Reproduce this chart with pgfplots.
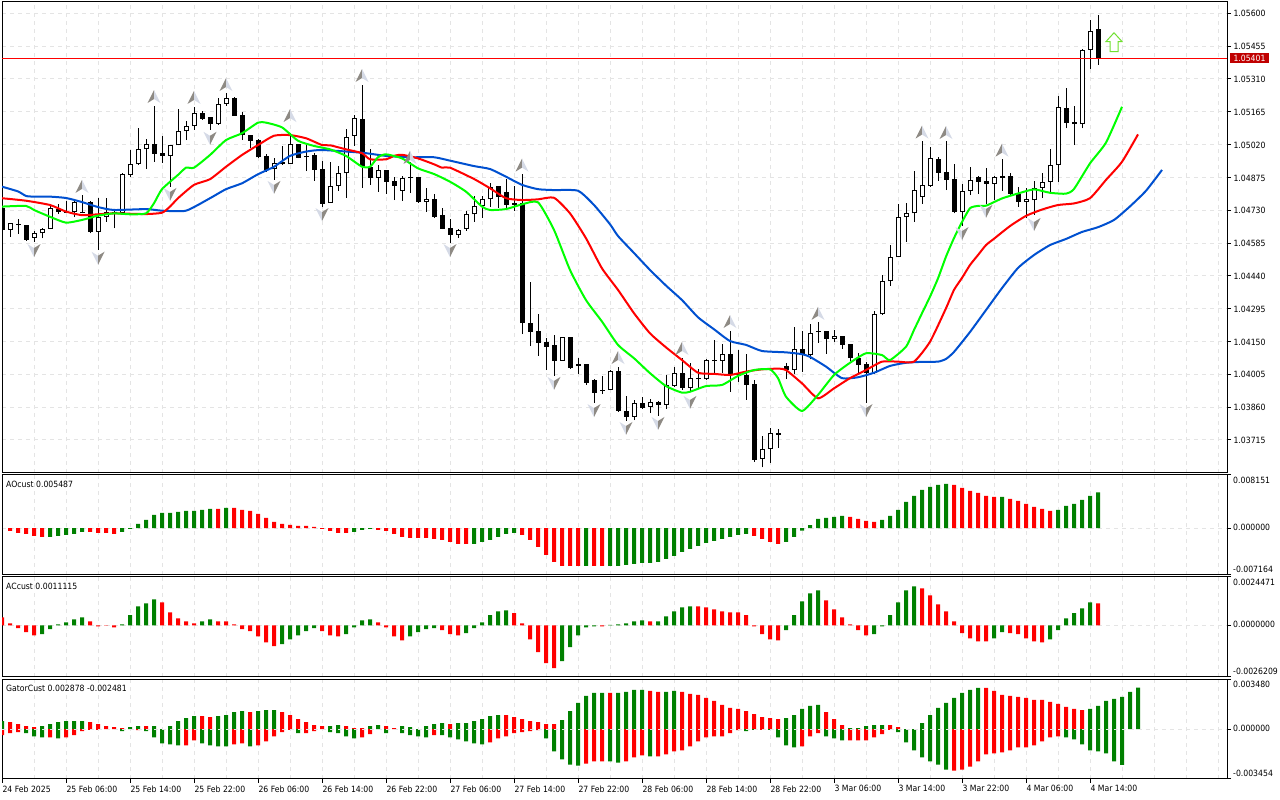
\documentclass[border=0pt]{standalone}
\usepackage{fontspec}
\setmainfont{DejaVu Sans}[FakeStretch=0.9]
\usepackage{pgfplots}
\usepackage{pgfplotstable}
\pgfplotsset{compat=1.18}
\newcommand{\lab}{\fontsize{8.6}{11}\selectfont}
\definecolor{fdark}{HTML}{8E8A84}
\definecolor{flight}{HTML}{D5DAE6}
\definecolor{gridc}{HTML}{E4E4E4}
\definecolor{hgreen}{HTML}{008000}
\definecolor{hred}{HTML}{FF0000}
\definecolor{blueline}{HTML}{0050D0}
\definecolor{arrowg}{HTML}{70E030}
\pgfdeclareplotmark{fup}{%
  \pgfsetfillcolor{fdark}\pgfpathmoveto{\pgfqpoint{0pt}{7pt}}\pgfpathlineto{\pgfqpoint{-6.5pt}{-6pt}}\pgfpathlineto{\pgfqpoint{0pt}{-2pt}}\pgfpathclose\pgfusepathqfill
  \pgfsetfillcolor{flight}\pgfpathmoveto{\pgfqpoint{0pt}{7pt}}\pgfpathlineto{\pgfqpoint{6.5pt}{-6pt}}\pgfpathlineto{\pgfqpoint{0pt}{-2pt}}\pgfpathclose\pgfusepathqfill}
\pgfdeclareplotmark{fdown}{%
  \pgfsetfillcolor{flight}\pgfpathmoveto{\pgfqpoint{0pt}{-7pt}}\pgfpathlineto{\pgfqpoint{-6.5pt}{6pt}}\pgfpathlineto{\pgfqpoint{0pt}{2pt}}\pgfpathclose\pgfusepathqfill
  \pgfsetfillcolor{fdark}\pgfpathmoveto{\pgfqpoint{0pt}{-7pt}}\pgfpathlineto{\pgfqpoint{6.5pt}{6pt}}\pgfpathlineto{\pgfqpoint{0pt}{2pt}}\pgfpathclose\pgfusepathqfill}
\pgfdeclareplotmark{bigup}{%
  \pgfsetlinewidth{1pt}\pgfsetstrokecolor{arrowg}\pgfsetfillcolor{white}%
  \pgfpathmoveto{\pgfqpoint{0pt}{9.3pt}}\pgfpathlineto{\pgfqpoint{8pt}{0.5pt}}\pgfpathlineto{\pgfqpoint{4pt}{0.5pt}}\pgfpathlineto{\pgfqpoint{4pt}{-9.5pt}}\pgfpathlineto{\pgfqpoint{-4pt}{-9.5pt}}\pgfpathlineto{\pgfqpoint{-4pt}{0.5pt}}\pgfpathlineto{\pgfqpoint{-8pt}{0.5pt}}\pgfpathclose\pgfusepathqfillstroke}
% k high top bottom low
\pgfplotstableread{
k h t b l
-1 1.04753 1.04740 1.04643 1.04634
1 1.04691 1.04668 1.04664 1.04625
2 1.04665 1.04665 1.04599 1.04594
6 1.04756 1.04735 1.04724 1.04713
7 1.04771 1.04724 1.04720 1.04718
9 1.04797 1.04722 1.04718 1.04716
10 1.04771 1.04765 1.04635 1.04628
13 1.04731 1.04724 1.04713 1.04650
18 1.05191 1.05021 1.04980 1.04944
19 1.05058 1.04982 1.04971 1.04940
24 1.05170 1.05158 1.05134 1.05129
25 1.05142 1.05141 1.05112 1.05085
28 1.05229 1.05225 1.05148 1.05148
29 1.05163 1.05149 1.05061 1.05040
30 1.05062 1.05061 1.05037 1.05006
31 1.05045 1.05040 1.04964 1.04959
32 1.04978 1.04970 1.04908 1.04900
34 1.05014 1.04944 1.04933 1.04930
36 1.05023 1.05021 1.04962 1.04959
38 1.04982 1.04974 1.04908 1.04861
39 1.04949 1.04911 1.04759 1.04746
44 1.05283 1.05132 1.04920 1.04830
45 1.04999 1.04920 1.04874 1.04842
47 1.04908 1.04908 1.04856 1.04802
48 1.04876 1.04859 1.04838 1.04775
50 1.04944 1.04876 1.04871 1.04805
51 1.04877 1.04877 1.04768 1.04763
53 1.04800 1.04778 1.04700 1.04697
54 1.04739 1.04709 1.04648 1.04646
55 1.04691 1.04650 1.04622 1.04587
61 1.04837 1.04836 1.04790 1.04740
62 1.04868 1.04811 1.04754 1.04731
63 1.04837 1.04762 1.04754 1.04728
64 1.04889 1.04761 1.04231 1.04183
65 1.04413 1.04231 1.04193 1.04130
66 1.04272 1.04196 1.04145 1.04086
67 1.04164 1.04148 1.04127 1.04024
68 1.04179 1.04135 1.04065 1.03998
70 1.04171 1.04169 1.04034 1.04029
72 1.04049 1.04049 1.03968 1.03959
73 1.03984 1.03980 1.03924 1.03880
74 1.03998 1.03936 1.03931 1.03917
76 1.04036 1.04018 1.03844 1.03840
77 1.03909 1.03842 1.03818 1.03800
79 1.03906 1.03877 1.03856 1.03853
81 1.03886 1.03883 1.03871 1.03821
84 1.04076 1.04010 1.03945 1.03936
86 1.04030 1.03988 1.03983 1.03939
88 1.04157 1.04068 1.04063 1.04007
90 1.04196 1.04094 1.04001 1.03927
91 1.04113 1.04010 1.04001 1.03973
92 1.04095 1.04002 1.03958 1.03892
93 1.03980 1.03961 1.03627 1.03619
96 1.03764 1.03745 1.03738 1.03681
97 1.04054 1.04042 1.04024 1.03984
99 1.04198 1.04117 1.04090 1.04017
101 1.04235 1.04196 1.04191 1.04145
102 1.04196 1.04196 1.04162 1.04095
104 1.04174 1.04173 1.04136 1.04118
105 1.04138 1.04138 1.04077 1.04065
106 1.04098 1.04076 1.04046 1.04007
107 1.04058 1.04049 1.04010 1.03880
116 1.04967 1.04956 1.04896 1.04861
117 1.05036 1.04898 1.04864 1.04819
118 1.04934 1.04868 1.04724 1.04716
121 1.04881 1.04877 1.04855 1.04802
122 1.04915 1.04858 1.04846 1.04758
124 1.04955 1.04881 1.04874 1.04816
125 1.04893 1.04881 1.04802 1.04797
126 1.04831 1.04802 1.04768 1.04746
132 1.05269 1.05180 1.05117 1.05092
133 1.05191 1.05119 1.05110 1.05018
136 1.05593 1.05529 1.05401 1.05372
}\blackc
\pgfplotstableread{
k h t b l
0 1.04672 1.04672 1.04643 1.04613
3 1.04638 1.04628 1.04609 1.04590
4 1.04653 1.04646 1.04628 1.04606
5 1.04753 1.04739 1.04646 1.04646
8 1.04775 1.04765 1.04724 1.04701
11 1.04785 1.04699 1.04635 1.04554
12 1.04783 1.04724 1.04699 1.04679
14 1.04893 1.04889 1.04716 1.04716
15 1.04996 1.04933 1.04886 1.04878
16 1.05092 1.04999 1.04933 1.04930
17 1.05043 1.05021 1.04999 1.04912
20 1.05018 1.05017 1.04971 1.04834
21 1.05176 1.05079 1.05017 1.05017
22 1.05126 1.05101 1.05079 1.05040
23 1.05187 1.05158 1.05101 1.05085
26 1.05227 1.05198 1.05112 1.05107
27 1.05247 1.05225 1.05201 1.05192
33 1.04959 1.04937 1.04911 1.04864
35 1.05070 1.05021 1.04933 1.04933
37 1.05018 1.04971 1.04964 1.04903
40 1.04944 1.04836 1.04761 1.04761
41 1.04925 1.04893 1.04836 1.04816
42 1.05088 1.05052 1.04893 1.04785
43 1.05151 1.05136 1.05058 1.05014
46 1.04930 1.04908 1.04874 1.04812
49 1.04881 1.04871 1.04816 1.04772
52 1.04830 1.04778 1.04768 1.04724
56 1.04646 1.04641 1.04622 1.04609
57 1.04727 1.04712 1.04646 1.04640
58 1.04793 1.04749 1.04712 1.04679
59 1.04793 1.04778 1.04749 1.04697
60 1.04849 1.04834 1.04778 1.04746
69 1.04169 1.04169 1.04065 1.04065
71 1.04076 1.04049 1.04041 1.04007
75 1.04024 1.04018 1.03935 1.03935
78 1.03890 1.03877 1.03818 1.03803
80 1.03896 1.03881 1.03862 1.03833
82 1.04002 1.03958 1.03871 1.03851
83 1.04036 1.04010 1.03955 1.03950
85 1.04054 1.03988 1.03946 1.03933
87 1.04074 1.04067 1.03983 1.03980
89 1.04139 1.04094 1.04063 1.04010
94 1.03733 1.03674 1.03630 1.03594
95 1.03767 1.03745 1.03674 1.03615
98 1.04213 1.04116 1.04024 1.04005
100 1.04227 1.04189 1.04090 1.04071
103 1.04201 1.04173 1.04162 1.04149
108 1.04286 1.04270 1.04011 1.04007
109 1.04444 1.04416 1.04270 1.04267
110 1.04576 1.04522 1.04416 1.04397
111 1.04758 1.04699 1.04522 1.04522
112 1.04761 1.04716 1.04699 1.04591
113 1.04903 1.04818 1.04716 1.04679
114 1.05036 1.04840 1.04790 1.04758
115 1.05011 1.04959 1.04838 1.04834
119 1.04846 1.04814 1.04724 1.04660
120 1.04920 1.04862 1.04816 1.04797
123 1.04881 1.04876 1.04847 1.04775
127 1.04827 1.04778 1.04768 1.04694
128 1.04859 1.04830 1.04774 1.04709
129 1.04893 1.04853 1.04830 1.04783
130 1.05001 1.04929 1.04856 1.04807
131 1.05235 1.05185 1.04929 1.04856
134 1.05441 1.05437 1.05110 1.05092
135 1.05570 1.05523 1.05437 1.05354
}\whitec
\pgfplotsset{
  panel/.style={
    scale only axis, width=1225pt, xmin=-1, xmax=152.125,
    anchor=south west,
    axis line style={black,line width=1pt},
    grid=both,
    major grid style={gridc,line width=1pt,dash pattern=on 4pt off 4pt},
    minor grid style={gridc,line width=1pt,dash pattern=on 4pt off 4pt},
    minor tick length=0pt,
    tick align=outside,
    major tick length=4pt,
    tick style={black,line width=1pt},
    xtick pos=bottom, ytick pos=right, yticklabel pos=right,
    xtick={-1,7,15,23,31,39,47,55,63,71,79,87,95,103,111,119,127,135},
    minor xtick={3,11,19,27,35,43,51,59,67,75,83,91,99,107,115,123,131,139,143,147,151},
    scaled y ticks=false,
    tick label style={font=\lab},
    clip=true,
  },
  nox/.style={xticklabels={},x tick style={draw=none}},
  hg/.style={ybar,bar width=4pt,bar shift=0pt,draw=none,fill=hgreen},
  hr/.style={ybar,bar width=4pt,bar shift=0pt,draw=none,fill=hred},
  zero/.style={gridc,line width=1pt,dash pattern=on 4pt off 4pt},
  ma/.style={line width=2pt,smooth,tension=0.35,line join=round},
}
\begin{document}
\begin{tikzpicture}
\useasboundingbox (0,0) rectangle (1280pt,800pt);
% ---- main price panel
\begin{axis}[panel,nox,at={(2pt,327pt)},height=471pt,ymin=1.03569,ymax=1.05650,
  ytick={1.056,1.05455,1.0531,1.05165,1.0502,1.04875,1.0473,1.04585,1.0444,1.04295,1.0415,1.04005,1.0386,1.03715},
  yticklabels={1.05600,1.05455,1.05310,1.05165,1.05020,1.04875,1.04730,1.04585,1.04440,1.04295,1.04150,1.04005,1.03860,1.03715},
  yticklabel style={xshift=-1pt,yshift=-0.5pt}]
\addplot[only marks,mark=fup,mark size=6pt] coordinates {(9,1.04833)(18,1.05230)(23,1.05226)(27,1.05283)(35,1.05146)(44,1.05323)(50,1.04961)(64,1.04927)(76,1.04077)(84,1.04117)(90,1.04236)(101,1.04272)(114,1.05073)(117,1.05071)(124,1.04993)};
\addplot[only marks,mark=fdown,mark size=6pt] coordinates {(3,1.04554)(11,1.04520)(20,1.04802)(25,1.05050)(33,1.04833)(39,1.04713)(55,1.04554)(68,1.03967)(73,1.03847)(77,1.03768)(81,1.03790)(85,1.03883)(107,1.03847)(119,1.04629)(122,1.04727)(128,1.04669)};
% wicks
\addplot[draw=none,mark=none,error bars/.cd,y dir=plus,y explicit,error mark=none,error bar style={black,line width=1pt}] table[x=k,y=l,y error plus expr={\thisrow{h}-\thisrow{l}}] {\blackc};
\addplot[draw=none,mark=none,error bars/.cd,y dir=plus,y explicit,error mark=none,error bar style={black,line width=1pt}] table[x=k,y=l,y error plus expr={\thisrow{h}-\thisrow{l}}] {\whitec};
% bodies
\addplot[draw=none,mark=none,error bars/.cd,y dir=plus,y explicit,error mark=none,error bar style={black,line width=5pt}] table[x=k,y=b,y error plus expr={\thisrow{t}-\thisrow{b}}] {\blackc};
\addplot[draw=none,mark=none,error bars/.cd,y dir=plus,y explicit,error mark=none,error bar style={black,line width=5pt}] table[x=k,y=b,y error plus expr={\thisrow{t}-\thisrow{b}}] {\whitec};
\addplot[draw=none,mark=none,error bars/.cd,y dir=plus,y explicit,error mark=none,error bar style={white,line width=3pt}] table[x=k,y expr={\thisrow{b}+0.000044},y error plus expr={max(\thisrow{t}-\thisrow{b}-0.000088,0)}] {\whitec};
% alligator lines
\addplot[blueline,ma] coordinates {(-1,1.04834)(1,1.04813)(2,1.04793)(3,1.04790)(5,1.04790)(7,1.04784)(9,1.04766)(11,1.04744)(13,1.04731)(17,1.04735)(19,1.04728)(22,1.04728)(25,1.04783)(27,1.04823)(29,1.04849)(31,1.04889)(33,1.04922)(35,1.04970)(37,1.04989)(39,1.04996)(44,1.04984)(47,1.04970)(50,1.04964)(53,1.04964)(55,1.04949)(58,1.04925)(60,1.04912)(62,1.04878)(64,1.04842)(66,1.04823)(68,1.04819)(71,1.04816)(73,1.04753)(75,1.04668)(76,1.04616)(78,1.04541)(80,1.04466)(82,1.04397)(84,1.04333)(86,1.04257)(88,1.04204)(90,1.04152)(92,1.04135)(94,1.04108)(97,1.04102)(99,1.04094)(100,1.04082)(102,1.04039)(104,1.03988)(106,1.03992)(108,1.04012)(110,1.04042)(112,1.04056)(114,1.04060)(116,1.04061)(117,1.04073)(118,1.04104)(120,1.04192)(122,1.04289)(124,1.04386)(126,1.04475)(128,1.04532)(130,1.04576)(132,1.04603)(134,1.04634)(136,1.04655)(138,1.04687)(140,1.04747)(142,1.04816)(144,1.04908)};
\addplot[red,ma] coordinates {(-1,1.04783)(2,1.04772)(5,1.04753)(7,1.04724)(9,1.04708)(11,1.04712)(13,1.04716)(17,1.04713)(19,1.04719)(20,1.04746)(21,1.04783)(23,1.04842)(25,1.04867)(27,1.04922)(29,1.04974)(31,1.05018)(33,1.05059)(35,1.05062)(37,1.05048)(39,1.05018)(40,1.05017)(42,1.04999)(44,1.04982)(45,1.04955)(47,1.04955)(48,1.04970)(49,1.04975)(51,1.04959)(53,1.04933)(54,1.04918)(55,1.04918)(58,1.04868)(60,1.04827)(62,1.04783)(64,1.04775)(66,1.04778)(68,1.04785)(70,1.04716)(72,1.04606)(74,1.04473)(76,1.04378)(78,1.04275)(80,1.04186)(82,1.04124)(84,1.04068)(86,1.04012)(88,1.04007)(90,1.04002)(92,1.04017)(94,1.04027)(96,1.04030)(97,1.04024)(99,1.03965)(101,1.03899)(103,1.03943)(105,1.03988)(107,1.04024)(109,1.04061)(111,1.04061)(113,1.04061)(115,1.04149)(117,1.04297)(118,1.04378)(119,1.04431)(120,1.04488)(121,1.04532)(122,1.04576)(123,1.04604)(125,1.04660)(127,1.04705)(129,1.04733)(131,1.04753)(133,1.04760)(135,1.04783)(137,1.04864)(139,1.04944)(141,1.05065)};
\addplot[green,ma] coordinates {(-1,1.04746)(2,1.04749)(3,1.04731)(5,1.04701)(7,1.04675)(9,1.04687)(11,1.04706)(13,1.04716)(15,1.04712)(17,1.04716)(18,1.04761)(19,1.04823)(21,1.04886)(22,1.04918)(23,1.04918)(25,1.04974)(27,1.05040)(29,1.05070)(31,1.05117)(32,1.05117)(34,1.05096)(36,1.05037)(38,1.05014)(40,1.04999)(42,1.04970)(44,1.04922)(45,1.04922)(46,1.04964)(47,1.04977)(49,1.04959)(51,1.04915)(53,1.04890)(55,1.04856)(57,1.04812)(59,1.04746)(60,1.04731)(62,1.04735)(64,1.04756)(66,1.04765)(68,1.04643)(70,1.04466)(72,1.04333)(74,1.04238)(76,1.04135)(78,1.04076)(80,1.04010)(82,1.03953)(84,1.03924)(85,1.03928)(87,1.03953)(89,1.03958)(91,1.03998)(93,1.04024)(95,1.04027)(96,1.03988)(97,1.03906)(99,1.03843)(101,1.03914)(103,1.04002)(105,1.04056)(107,1.04098)(109,1.04090)(110,1.04068)(112,1.04127)(113,1.04201)(114,1.04275)(115,1.04348)(116,1.04429)(117,1.04525)(118,1.04607)(119,1.04678)(120,1.04739)(121,1.04749)(122,1.04750)(124,1.04782)(126,1.04804)(128,1.04822)(130,1.04807)(132,1.04803)(133,1.04824)(135,1.04937)(137,1.05029)(139,1.05187)};
\addplot[red,line width=1pt] coordinates {(-1,1.05401)(152.125,1.05401)};
\addplot[only marks,mark=bigup] coordinates {(138,1.05473)};
\end{axis}
% ---- AO
\begin{axis}[panel,nox,at={(2pt,225pt)},height=100pt,ymin=-0.007164,ymax=0.008151,
  ytick={-0.007164,0,0.008151},yticklabels={}]
\addplot[hg] coordinates {(5,-0.00133)(6,-0.00118)(7,-0.00103)(8,-0.00087)(9,-0.00057)(14,-0.00057)(15,-0.00009)(16,0.00066)(17,0.00127)(18,0.00203)(19,0.00234)(20,0.00234)(21,0.00249)(22,0.00265)(23,0.00265)(24,0.00280)(25,0.00295)(27,0.00311)(43,-0.00057)(44,-0.00026)(45,-0.00009)(58,-0.00240)(59,-0.00210)(60,-0.00179)(61,-0.00133)(62,-0.00087)(63,-0.00072)(72,-0.00577)(75,-0.00577)(76,-0.00577)(77,-0.00562)(78,-0.00546)(79,-0.00531)(80,-0.00531)(81,-0.00516)(82,-0.00470)(83,-0.00424)(84,-0.00363)(85,-0.00317)(86,-0.00271)(87,-0.00225)(88,-0.00194)(89,-0.00164)(90,-0.00133)(91,-0.00103)(92,-0.00087)(97,-0.00210)(98,-0.00133)(99,-0.00035)(100,0.00046)(101,0.00142)(102,0.00158)(103,0.00173)(104,0.00188)(109,0.00127)(110,0.00188)(111,0.00280)(112,0.00402)(113,0.00494)(114,0.00586)(115,0.00632)(116,0.00662)(117,0.00678)(124,0.00479)(131,0.00280)(132,0.00341)(133,0.00372)(134,0.00433)(135,0.00494)(136,0.00549)};
\addplot[hr] coordinates {(0,-0.00041)(1,-0.00072)(2,-0.00087)(3,-0.00118)(4,-0.00133)(10,-0.00057)(11,-0.00072)(12,-0.00072)(13,-0.00087)(26,0.00295)(28,0.00311)(29,0.00280)(30,0.00265)(31,0.00219)(32,0.00158)(33,0.00096)(34,0.00066)(35,0.00050)(36,0.00035)(37,0.00035)(38,0.00020)(39,-0.00009)(40,-0.00041)(41,-0.00072)(42,-0.00072)(46,-0.00026)(47,-0.00041)(48,-0.00087)(49,-0.00133)(50,-0.00148)(51,-0.00148)(52,-0.00148)(53,-0.00164)(54,-0.00179)(55,-0.00210)(56,-0.00240)(57,-0.00240)(64,-0.00103)(65,-0.00179)(66,-0.00286)(67,-0.00409)(68,-0.00516)(69,-0.00577)(70,-0.00577)(71,-0.00577)(73,-0.00577)(74,-0.00577)(93,-0.00118)(94,-0.00164)(95,-0.00210)(96,-0.00240)(105,0.00173)(106,0.00142)(107,0.00112)(108,0.00096)(118,0.00662)(119,0.00617)(120,0.00571)(121,0.00540)(122,0.00494)(123,0.00479)(125,0.00448)(126,0.00418)(127,0.00372)(128,0.00326)(129,0.00295)(130,0.00265)};
\end{axis}
% ---- AC
\begin{axis}[panel,nox,at={(2pt,123pt)},height=100pt,ymin=-0.0026209,ymax=0.0024471,
  ytick={-0.0026209,0,0.0024471},yticklabels={}]
\addplot[hg] coordinates {(4,-0.00045)(5,-0.00020)(6,0.00005)(7,0.00015)(8,0.00030)(9,0.00040)(14,0.00005)(15,0.00051)(16,0.00096)(17,0.00111)(18,0.00131)(24,0.00020)(25,0.00030)(34,-0.00096)(35,-0.00071)(36,-0.00051)(37,-0.00030)(38,-0.00015)(42,-0.00045)(43,-0.00010)(44,0.00025)(45,0.00030)(50,-0.00056)(51,-0.00035)(52,-0.00020)(53,-0.00015)(57,-0.00040)(58,-0.00015)(59,0.00015)(60,0.00051)(61,0.00071)(62,0.00076)(69,-0.00182)(70,-0.00111)(71,-0.00051)(72,-0.00010)(73,-0.00005)(75,0.00002)(76,0.00005)(77,0.00010)(78,0.00020)(79,0.00025)(81,0.00020)(82,0.00045)(83,0.00071)(84,0.00091)(85,0.00096)(97,-0.00025)(98,0.00051)(99,0.00121)(100,0.00162)(101,0.00177)(108,-0.00045)(109,-0.00005)(110,0.00051)(111,0.00116)(112,0.00177)(113,0.00197)(123,-0.00066)(124,-0.00035)(130,-0.00071)(131,-0.00025)(132,0.00035)(133,0.00061)(134,0.00086)(135,0.00116)};
\addplot[hr] coordinates {(-1,0.00040)(0,0.00010)(1,-0.00015)(2,-0.00035)(3,-0.00051)(10,0.00020)(11,-0.00005)(12,-0.00002)(13,-0.00010)(19,0.00116)(20,0.00066)(21,0.00035)(22,0.00020)(23,0.00010)(26,0.00020)(27,0.00020)(28,0.00005)(29,-0.00020)(30,-0.00030)(31,-0.00056)(32,-0.00086)(33,-0.00106)(39,-0.00030)(40,-0.00051)(41,-0.00056)(46,0.00015)(47,-0.00010)(48,-0.00056)(49,-0.00076)(54,-0.00025)(55,-0.00045)(56,-0.00051)(63,0.00061)(64,0.00010)(65,-0.00071)(66,-0.00136)(67,-0.00192)(68,-0.00217)(74,-0.00005)(80,0.00020)(86,0.00096)(87,0.00091)(88,0.00081)(89,0.00071)(90,0.00066)(91,0.00066)(92,0.00051)(93,-0.00005)(94,-0.00045)(95,-0.00071)(96,-0.00076)(102,0.00126)(103,0.00081)(104,0.00040)(105,0.00005)(106,-0.00025)(107,-0.00051)(114,0.00187)(115,0.00152)(116,0.00106)(117,0.00071)(118,0.00020)(119,-0.00040)(120,-0.00066)(121,-0.00081)(122,-0.00081)(125,-0.00040)(126,-0.00045)(127,-0.00066)(128,-0.00081)(129,-0.00086)(136,0.00111)};
\end{axis}
% ---- Gator
\begin{axis}[panel,at={(2pt,21pt)},height=100pt,ymin=-0.003454,ymax=0.003480,
  ytick={-0.003454,0,0.003480},yticklabels={},
  xticklabels={24 Feb 2025,25 Feb 06:00,25 Feb 14:00,25 Feb 22:00,26 Feb 06:00,26 Feb 14:00,26 Feb 22:00,27 Feb 06:00,27 Feb 14:00,27 Feb 22:00,28 Feb 06:00,28 Feb 14:00,28 Feb 22:00,3 Mar 06:00,3 Mar 14:00,3 Mar 22:00,4 Mar 06:00,4 Mar 14:00},
  xticklabel style={anchor=north west,xshift=-3pt,yshift=1pt}]
\addplot[hg] coordinates {(-1,0.00056)(4,0.00021)(5,0.00035)(6,0.00049)(7,0.00056)(8,0.00056)(9,0.00056)(15,0.00014)(16,0.00021)(18,0.00021)(20,0.00021)(21,0.00056)(22,0.00077)(23,0.00091)(26,0.00091)(27,0.00098)(28,0.00119)(29,0.00126)(31,0.00126)(32,0.00133)(33,0.00133)(40,0.00021)(41,0.00028)(45,0.00021)(46,0.00028)(49,0.00021)(50,0.00014)(52,0.00021)(53,0.00035)(54,0.00042)(56,0.00042)(57,0.00042)(58,0.00056)(59,0.00070)(60,0.00091)(61,0.00098)(69,0.00063)(70,0.00126)(71,0.00182)(72,0.00231)(73,0.00252)(74,0.00252)(76,0.00252)(77,0.00259)(78,0.00273)(79,0.00273)(82,0.00259)(83,0.00266)(97,0.00077)(98,0.00098)(99,0.00140)(100,0.00161)(101,0.00168)(105,0.00007)(106,0.00007)(107,0.00021)(108,0.00028)(109,0.00028)(114,0.00042)(115,0.00098)(116,0.00147)(117,0.00182)(118,0.00217)(119,0.00252)(120,0.00273)(121,0.00287)(135,0.00140)(136,0.00161)(137,0.00196)(138,0.00210)(139,0.00224)(140,0.00259)(141,0.00288)};
\addplot[hr] coordinates {(0,0.00049)(1,0.00035)(2,0.00021)(3,0.00014)(10,0.00049)(11,0.00035)(12,0.00021)(13,0.00014)(14,0.00007)(17,0.00021)(24,0.00091)(25,0.00084)(30,0.00119)(34,0.00119)(35,0.00098)(36,0.00070)(37,0.00049)(38,0.00028)(39,0.00021)(42,0.00021)(43,0.00007)(44,0.00007)(47,0.00021)(48,0.00007)(55,0.00035)(62,0.00098)(63,0.00084)(64,0.00070)(65,0.00056)(66,0.00049)(67,0.00035)(68,0.00035)(75,0.00252)(80,0.00266)(81,0.00259)(84,0.00259)(85,0.00245)(86,0.00238)(87,0.00217)(88,0.00196)(89,0.00168)(90,0.00147)(91,0.00140)(92,0.00126)(93,0.00105)(94,0.00084)(95,0.00077)(96,0.00070)(102,0.00119)(103,0.00070)(104,0.00028)(110,0.00028)(111,0.00014)(122,0.00287)(123,0.00266)(124,0.00238)(125,0.00231)(126,0.00224)(127,0.00217)(128,0.00203)(129,0.00203)(130,0.00189)(131,0.00175)(132,0.00154)(133,0.00140)(134,0.00133)};
\addplot[hg] coordinates {(2,-0.00028)(3,-0.00049)(4,-0.00056)(6,-0.00063)(14,-0.00014)(17,-0.00014)(18,-0.00056)(19,-0.00098)(20,-0.00105)(21,-0.00112)(24,-0.00098)(25,-0.00112)(26,-0.00119)(27,-0.00119)(30,-0.00119)(36,-0.00028)(40,-0.00021)(41,-0.00028)(42,-0.00049)(43,-0.00063)(47,-0.00028)(49,-0.00028)(50,-0.00042)(51,-0.00049)(52,-0.00056)(54,-0.00042)(55,-0.00056)(56,-0.00070)(57,-0.00084)(58,-0.00098)(59,-0.00105)(67,-0.00063)(68,-0.00154)(69,-0.00210)(70,-0.00245)(71,-0.00252)(75,-0.00224)(76,-0.00231)(80,-0.00189)(92,-0.00014)(93,-0.00004)(95,-0.00004)(96,-0.00056)(97,-0.00112)(98,-0.00126)(102,-0.00049)(103,-0.00063)(104,-0.00077)(111,-0.00021)(112,-0.00091)(113,-0.00147)(114,-0.00196)(115,-0.00224)(116,-0.00245)(117,-0.00280)(132,-0.00056)(133,-0.00070)(134,-0.00105)(135,-0.00147)(136,-0.00154)(137,-0.00168)(138,-0.00224)(139,-0.00248)};
\addplot[hr] coordinates {(-1,-0.00042)(0,-0.00028)(1,-0.00021)(5,-0.00056)(7,-0.00056)(8,-0.00042)(9,-0.00014)(10,-0.00004)(11,-0.00004)(16,-0.00007)(22,-0.00112)(23,-0.00077)(28,-0.00105)(29,-0.00098)(31,-0.00112)(32,-0.00084)(33,-0.00049)(34,-0.00021)(35,-0.00004)(37,-0.00028)(38,-0.00014)(44,-0.00056)(45,-0.00035)(53,-0.00042)(60,-0.00091)(61,-0.00063)(62,-0.00049)(63,-0.00028)(64,-0.00021)(65,-0.00014)(66,-0.00007)(72,-0.00238)(73,-0.00224)(74,-0.00224)(77,-0.00224)(78,-0.00196)(79,-0.00182)(81,-0.00189)(82,-0.00175)(83,-0.00154)(84,-0.00147)(85,-0.00119)(86,-0.00084)(87,-0.00056)(88,-0.00049)(89,-0.00049)(90,-0.00028)(91,-0.00007)(94,-0.00004)(99,-0.00119)(100,-0.00049)(101,-0.00028)(105,-0.00077)(106,-0.00077)(107,-0.00077)(108,-0.00056)(109,-0.00035)(110,-0.00004)(118,-0.00287)(119,-0.00280)(120,-0.00259)(121,-0.00224)(122,-0.00175)(123,-0.00168)(124,-0.00161)(125,-0.00147)(126,-0.00126)(127,-0.00126)(128,-0.00112)(129,-0.00084)(130,-0.00056)(131,-0.00049)};
\addplot[zero] coordinates {(-1,0)(152.125,0)};
\end{axis}
% ---- text labels
\tikzset{l/.style={anchor=west,inner sep=0pt,font=\lab}}
\node[l] at (6pt,315.7pt) {AOcust 0.005487};
\node[l] at (6pt,213.3pt) {ACcust 0.0011115};
\node[l] at (6pt,111.3pt) {GatorCust 0.002878 -0.002481};
\node[l] at (1233pt,319.7pt) {0.008151};
\node[l] at (1233pt,273pt) {0.000000};
\node[l] at (1233pt,230.7pt) {-0.007164};
\node[l] at (1233pt,217.7pt) {0.0024471};
\node[l] at (1233pt,175.3pt) {0.0000000};
\node[l] at (1233pt,128.7pt) {-0.0026209};
\node[l] at (1233pt,116pt) {0.003480};
\node[l] at (1233pt,71.7pt) {0.000000};
\node[l] at (1233pt,26.3pt) {-0.003454};
\node[anchor=center,inner sep=0pt,fill={rgb,255:red,192;green,0;blue,0},text=white,font=\lab,minimum width=39pt,minimum height=10pt] at (1249.5pt,741.7pt) {1.05401};
\end{tikzpicture}
\end{document}
